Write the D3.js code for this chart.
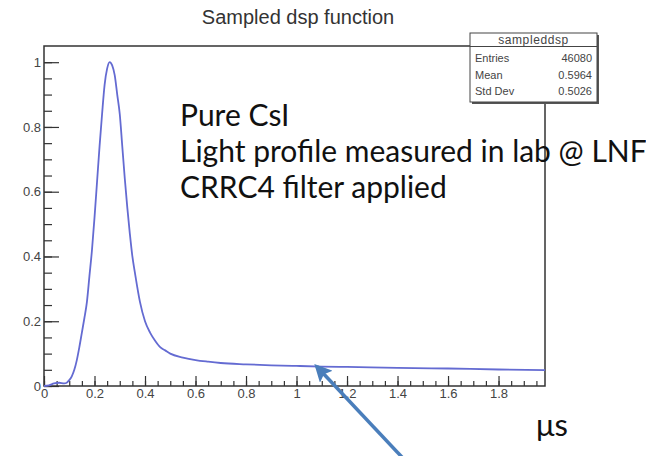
<!DOCTYPE html>
<html>
<head>
<meta charset="utf-8">
<script src="https://cdn.jsdelivr.net/npm/d3@7"></script>
<style>
    body { margin: 0; background: #fff; }
    .axis text { font-family: "Liberation Sans", Arial, sans-serif; font-size: 13px; fill: #444; }
    .axis line { stroke: #333; stroke-width: 1.2; }
    .axis path { display: none; }
</style>
</head>
<body>
<div class="main"></div>
<script>
const WIDTH = 646;
const HEIGHT = 456;
const FRAME = { left: 44, right: 545, top: 46, bottom: 386 };

// time (us) and normalised amplitude
var tValues = [0, 0.02, 0.04, 0.06, 0.08, 0.09, 0.10, 0.11, 0.12, 0.13, 0.14, 0.15, 0.16, 0.17, 0.18, 0.19,
    0.20, 0.21, 0.22, 0.23, 0.24, 0.25, 0.26, 0.27, 0.28, 0.29, 0.30, 0.31, 0.32, 0.33, 0.34, 0.35, 0.36,
    0.38, 0.40, 0.42, 0.44, 0.46, 0.48, 0.50, 0.55, 0.60, 0.65, 0.70, 0.80, 0.90, 1.00, 1.10, 1.20,
    1.40, 1.60, 1.80, 1.984];
var amplitude = [0, 0.002, 0.008, 0.01, 0.008, 0.01, 0.018, 0.03, 0.05, 0.08, 0.12, 0.165, 0.21, 0.26, 0.34, 0.42,
    0.52, 0.63, 0.74, 0.84, 0.93, 0.98, 1.0, 0.99, 0.96, 0.90, 0.84, 0.74, 0.64, 0.55, 0.47, 0.40, 0.35,
    0.26, 0.20, 0.165, 0.14, 0.12, 0.11, 0.10, 0.088, 0.08, 0.075, 0.071, 0.067, 0.064, 0.062, 0.060, 0.059,
    0.056, 0.054, 0.051, 0.049];

var xTicks = [0, 0.2, 0.4, 0.6, 0.8, 1, 1.2, 1.4, 1.6, 1.8];
var xTickLabels = ["0", "0.2", "0.4", "0.6", "0.8", "1", "1.2", "1.4", "1.6", "1.8"];
var yTicks = [0, 0.2, 0.4, 0.6, 0.8, 1];
var yTickLabels = ["0", "0.2", "0.4", "0.6", "0.8", "1"];

var statsName = "sampleddsp";
var statsLabels = ["Entries", "Mean", "Std Dev"];
var statsValues = ["46080", "0.5964", "0.5026"];

var noteLines = ["Pure CsI", "Light profile measured in lab @ LNF", "CRRC4 filter applied"];
// arrow from below the axis up to the tail of the curve (data coords)
var arrowFrom = [1.43, -0.23];
var arrowTo = [1.08, 0.06];

var svg = d3.select(".main")
    .append("svg")
        .attr("width", WIDTH)
        .attr("height", HEIGHT);

var x = d3.scaleLinear().domain([0, 1.984]).range([FRAME.left, FRAME.right]);
var y = d3.scaleLinear().domain([0, 1.05]).range([FRAME.bottom, FRAME.top]);

// title
svg.append("text")
    .attr("x", 298)
    .attr("y", 24)
    .attr("text-anchor", "middle")
    .style("font-family", "Liberation Sans, Arial, sans-serif")
    .style("font-size", "20px")
    .style("fill", "#333")
    .text("Sampled dsp function");

// minor ticks
svg.append("g")
    .attr("class", "axis")
    .attr("transform", `translate(0,${FRAME.bottom})`)
    .call(d3.axisBottom(x).tickValues(d3.range(0, 1.98, 0.05)).tickSize(-5).tickFormat(""));
svg.append("g")
    .attr("class", "axis")
    .attr("transform", `translate(${FRAME.left},0)`)
    .call(d3.axisLeft(y).tickValues(d3.range(0, 1.05, 0.05)).tickSize(-8).tickFormat(""));

// major ticks
svg.append("g")
    .attr("class", "axis")
    .attr("transform", `translate(0,${FRAME.bottom})`)
    .call(d3.axisBottom(x).tickValues(xTicks).tickSize(-10).tickPadding(3)
        .tickFormat((d, i) => xTickLabels[i]));
svg.append("g")
    .attr("class", "axis")
    .attr("transform", `translate(${FRAME.left},0)`)
    .call(d3.axisLeft(y).tickValues(yTicks).tickSize(-15).tickPadding(3)
        .tickFormat((d, i) => yTickLabels[i]));

// frame
svg.append("rect")
    .attr("x", FRAME.left)
    .attr("y", FRAME.top)
    .attr("width", FRAME.right - FRAME.left)
    .attr("height", FRAME.bottom - FRAME.top)
    .attr("fill", "none")
    .attr("stroke", "#333")
    .attr("stroke-width", 1.5);

// curve
var line = d3.line()
    .x((d, i) => x(tValues[i]))
    .y(d => y(d))
    .curve(d3.curveMonotoneX);

svg.append("path")
    .datum(amplitude)
    .attr("d", line)
    .attr("fill", "none")
    .attr("stroke", "#646bd2")
    .attr("stroke-width", 1.8);

// stats box
var box = svg.append("g");
box.append("rect")
    .attr("x", 472).attr("y", 35)
    .attr("width", 127).attr("height", 69)
    .attr("fill", "#555");
box.append("rect")
    .attr("x", 470).attr("y", 33)
    .attr("width", 127).attr("height", 69)
    .attr("fill", "#fff")
    .attr("stroke", "#444")
    .attr("stroke-width", 1);
box.append("line")
    .attr("x1", 470).attr("x2", 597)
    .attr("y1", 46.5).attr("y2", 46.5)
    .attr("stroke", "#444");
box.append("text")
    .attr("x", 533.5).attr("y", 44)
    .attr("text-anchor", "middle")
    .style("font-family", "Liberation Sans, Arial, sans-serif")
    .style("font-size", "12px")
    .style("letter-spacing", "0.6px")
    .style("fill", "#444")
    .text(statsName);
box.selectAll(".slabel")
    .data(statsLabels)
    .join("text")
    .attr("class", "slabel")
    .attr("x", 475)
    .attr("y", (d, i) => 62 + i * 16.5)
    .style("font-family", "Liberation Sans, Arial, sans-serif")
    .style("font-size", "11px")
    .style("fill", "#444")
    .text(d => d);
box.selectAll(".svalue")
    .data(statsValues)
    .join("text")
    .attr("class", "svalue")
    .attr("x", 592)
    .attr("y", (d, i) => 62 + i * 16.5)
    .attr("text-anchor", "end")
    .style("font-family", "Liberation Sans, Arial, sans-serif")
    .style("font-size", "11px")
    .style("fill", "#444")
    .text(d => d);

// annotation text
svg.selectAll(".note")
    .data(noteLines)
    .join("text")
    .attr("class", "note")
    .attr("x", 180)
    .attr("y", (d, i) => 126 + i * 36)
    .style("font-family", "Lato, sans-serif")
    .style("font-size", "30px")
    .style("fill", "#111")
    .text(d => d);

svg.append("text")
    .attr("x", 536)
    .attr("y", 436)
    .style("font-family", "Lato, sans-serif")
    .style("font-size", "31px")
    .style("fill", "#111")
    .text("\u03bcs");

// arrow
svg.append("defs")
    .append("marker")
        .attr("id", "head")
        .attr("viewBox", "0 0 10 10")
        .attr("refX", 8)
        .attr("refY", 5)
        .attr("markerWidth", 5)
        .attr("markerHeight", 5)
        .attr("markerUnits", "strokeWidth")
        .attr("orient", "auto")
    .append("path")
        .attr("d", "M0,0 L10,5 L0,10 L2,5 Z")
        .attr("fill", "#4a7ebb");

svg.append("line")
    .attr("x1", x(arrowFrom[0]))
    .attr("y1", y(arrowFrom[1]))
    .attr("x2", x(arrowTo[0]))
    .attr("y2", y(arrowTo[1]))
    .attr("stroke", "#4a7ebb")
    .attr("stroke-width", 3.5)
    .attr("marker-end", "url(#head)");
</script>
</body>
</html>
